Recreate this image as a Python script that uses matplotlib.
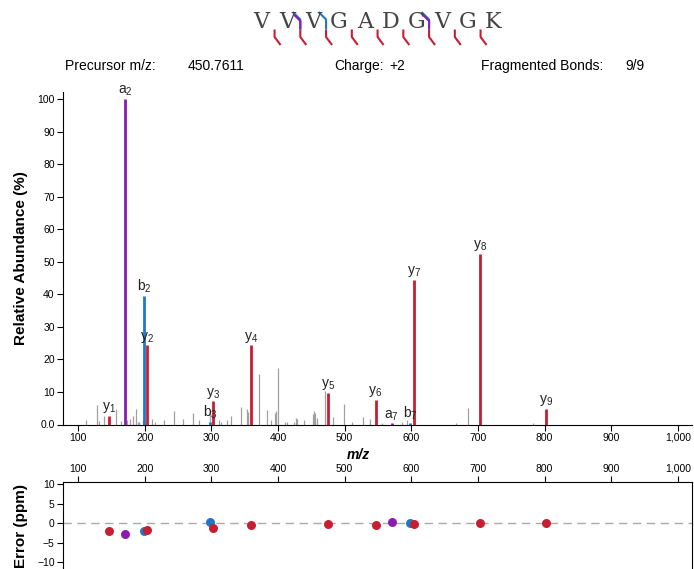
import numpy as np
import matplotlib
matplotlib.use("Agg")
from matplotlib import pyplot as plt
from matplotlib.ticker import FuncFormatter

plt.rcParams['font.family'] = ['Liberation Sans', 'DejaVu Sans']

# peptide and header info
sequence = "VVVGADGVGK"
precursor_mz = "450.7611"
charge = "+2"
frag_bonds = "9/9"

# annotated fragment ions
ion_type = ['y', 'a', 'b', 'y', 'b', 'y', 'y', 'y', 'y', 'a', 'b', 'y', 'y', 'y']
ion_num = [1, 2, 2, 2, 3, 3, 4, 5, 6, 7, 7, 7, 8, 9]
ion_mz = [147.11, 171.15, 199.14, 204.13, 298.21, 303.20, 360.22, 475.25,
          546.29, 570.32, 598.32, 603.31, 702.38, 801.45]
ion_int = [2.6, 100, 39.5, 24.3, 0.8, 7.1, 24.3, 9.8, 7.6, 0.4, 0.6, 44.5, 52.5, 4.8]
ion_err = [-2.0, -2.9, -2.0, -1.7, 0.3, -1.2, -0.4, -0.2, -0.4, 0.3, 0.0, -0.25, -0.1, -0.1]

# unannotated peaks
noise_mz = [111.5, 128.5, 131.5, 138.5, 157.5, 164.5, 170.0, 174.0, 178.5, 182.5,
            186.5, 189.5, 192.0, 197.0, 211.5, 215.5, 229.0, 244.5, 257.0, 273.0,
            282.0, 298.0, 311.0, 315.0, 323.0, 329.5, 344.0, 353.0, 355.5, 372.0,
            383.0, 390.0, 396.0, 397.5, 400.5, 410.5, 414.0, 424.5, 427.5, 429.0,
            439.5, 452.0, 454.0, 455.5, 458.0, 471.0, 482.0, 499.5, 510.5, 528.0,
            538.5, 555.5, 585.5, 593.0, 604.5, 666.5, 684.5, 703.5, 783.0, 802.0]
noise_int = [1.4, 5.9, 1.0, 2.5, 4.7, 1.1, 3.5, 1.5, 1.8, 2.6,
             4.7, 0.8, 0.9, 1.3, 1.8, 0.8, 1.5, 4.1, 1.8, 3.5,
             1.4, 3.8, 1.3, 0.8, 1.5, 2.6, 5.3, 4.7, 3.9, 15.4,
             4.4, 1.3, 3.6, 4.1, 17.3, 0.9, 0.9, 0.8, 1.9, 1.6,
             1.3, 3.2, 4.2, 3.4, 2.0, 10.3, 2.2, 6.3, 0.7, 2.3,
             1.6, 0.6, 0.7, 1.5, 4.9, 0.6, 5.0, 6.7, 0.5, 1.0]

colors = {'y': '#c81e32', 'b': '#1f78c4', 'a': '#8a1cb0'}
grey = '#a0a0a0'

xmin, xmax = 77.5, 1021
xticks = [100, 200, 300, 400, 500, 600, 700, 800, 900, 1000]
comma = FuncFormatter(lambda v, p: "{:,.0f}".format(v))

fig = plt.figure(figsize=(6.94, 5.69), dpi=100)

# ---- header (pixel coords overlay)
hdr = fig.add_axes([0, 0, 1, 1], zorder=-1)
hdr.set_xlim(0, 694)
hdr.set_ylim(569, 0)
hdr.axis('off')

x0, step = 261.7, 25.75
for i, res in enumerate(sequence):
    hdr.text(x0 + i * step, 22, res, ha='center', va='center', fontsize=16,
             family='DejaVu Serif', color='#444444')

n = len(sequence)
for t, k in zip(ion_type, ion_num):
    if t == 'y':
        bx = x0 + (n - k - 0.5) * step
        hdr.plot([bx, bx, bx + 6], [29.5, 37, 45], color=colors['y'], lw=1.5,
                 solid_capstyle='butt')
for t, k in zip(ion_type, ion_num):
    if t == 'b':
        bx = x0 + (k - 0.5) * step
        hdr.plot([bx, bx, bx - 7.5], [29.5, 19.5, 12], color=colors['b'], lw=1.5,
                 solid_capstyle='butt')
for t, k in zip(ion_type, ion_num):
    if t == 'a':
        bx = x0 + (k - 0.5) * step
        hdr.plot([bx, bx, bx - 6], [29.5, 21, 15], color=colors['a'], lw=1.5,
                 solid_capstyle='butt')

hdr.text(65, 66, "Precursor m/z:", fontsize=10, va='center')
hdr.text(188, 66, precursor_mz, fontsize=10, va='center')
hdr.text(334, 66, "Charge:", fontsize=10, va='center')
hdr.text(389, 66, charge, fontsize=10, va='center')
hdr.text(481, 66, "Fragmented Bonds:", fontsize=10, va='center')
hdr.text(625, 66, frag_bonds, fontsize=10, va='center')

# ---- spectrum
ax = fig.add_axes([63 / 694, 1 - 424.5 / 569, 629 / 694, (424.5 - 92) / 569])
ax.vlines(noise_mz, 0, noise_int, color=grey, lw=0.9)
for t, k, mz, inten in zip(ion_type, ion_num, ion_mz, ion_int):
    ax.vlines(mz, 0, inten, color=colors[t], lw=2.0, zorder=3)
    ax.annotate(t + r"$_\mathregular{%d}$" % k, (mz, inten), xytext=(0, 0.5),
                textcoords='offset points', ha='center', va='bottom',
                fontsize=10, color='#222222', zorder=4)
ax.set_xlim(xmin, xmax)
ax.set_ylim(0, 102.2)
ax.set_yticks(range(0, 101, 10))
ax.set_yticklabels(['0.0'] + [str(v) for v in range(10, 101, 10)])
ax.set_xticks(xticks)
ax.xaxis.set_major_formatter(comma)
ax.tick_params(labelsize=7.5, length=4, width=0.8, pad=2)
for s in ['top', 'right']:
    ax.spines[s].set_visible(False)
ax.set_ylabel("Relative Abundance (%)", fontsize=11, fontweight='bold')
ax.set_xlabel("m/z", fontsize=10, fontweight='bold', style='italic')
ax.xaxis.set_label_coords(0.47, -0.07)
ax.yaxis.set_label_coords(-0.056, 0.5)

# ---- error plot
ax2 = fig.add_axes([63 / 694, 1 - 570 / 569, 629 / 694, (570 - 482) / 569])
ax2.axhline(0, color='#aaaaaa', lw=1, dashes=(6, 4), zorder=1)
for t, mz, err in zip(ion_type, ion_mz, ion_err):
    ax2.scatter(mz, err, s=42, color=colors[t], zorder=3, linewidths=0)
ax2.set_xlim(xmin, xmax)
ax2.set_ylim(-12.0, 10.5)
ax2.set_yticks([-10, -5, 0, 5, 10])
ax2.xaxis.tick_top()
ax2.set_xticks(xticks)
ax2.xaxis.set_major_formatter(comma)
ax2.tick_params(labelsize=7.5, length=4, width=0.8, pad=2)
ax2.set_ylabel("Error (ppm)", fontsize=11, fontweight='bold')
ax2.yaxis.set_label_coords(-0.056, 0.5)

fig.savefig("out.png", dpi=100)
